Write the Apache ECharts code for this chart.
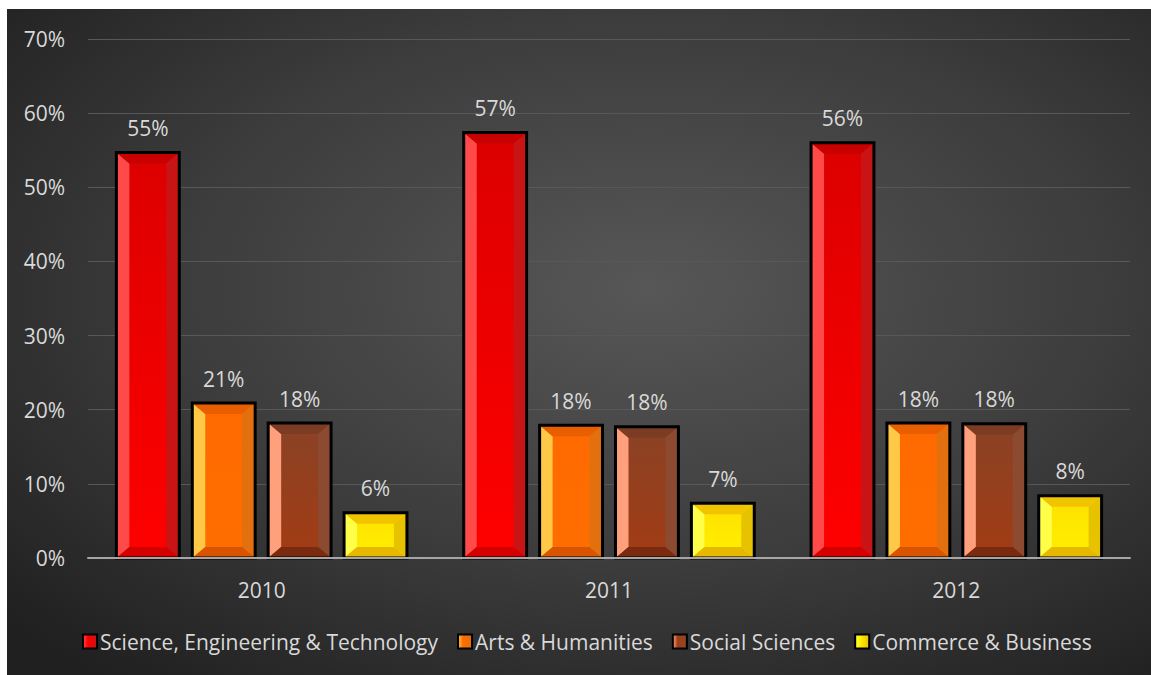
<!DOCTYPE html>
<html>
<head>
<meta charset="utf-8">
<title>Enrolment share by field, 2010–2012</title>
<script src="https://cdn.jsdelivr.net/npm/echarts@6/dist/echarts.min.js"></script>
<style>
  html, body { margin: 0; padding: 0; background: #ffffff; }
  #chart { position: absolute; left: 7px; top: 9px; width: 1144px; height: 666px; }
</style>
</head>
<body>
<div id="chart"></div>
<script>
// Years on the category axis
const categories = ['2010', '2011', '2012'];

// Share of students per field of study (%)
const scienceValues  = [54.7, 57.4, 56.0];
const artsValues     = [20.9, 17.9, 18.2];
const socialValues   = [18.2, 17.7, 18.1];
const commerceValues = [6.1, 7.4, 8.4];

const seriesNames = [
  'Science, Engineering & Technology',
  'Arts & Humanities',
  'Social Sciences',
  'Commerce & Business'
];
const seriesValues = [scienceValues, artsValues, socialValues, commerceValues];

// Bevel shading for each field: face (top→bottom), left, top, right, bottom edges
const bevels = [
  { faceTop: '#dc0000', faceBottom: '#ff0000', left: '#ff4a4a', top: '#c80000', right: '#c81414', bottom: '#d40000' },
  { faceTop: '#ff6a00', faceBottom: '#ff6e00', left: '#ffc847', top: '#e85e00', right: '#e2700f', bottom: '#d85400' },
  { faceTop: '#8a4226', faceBottom: '#a23c14', left: '#ffa07c', top: '#7c3c24', right: '#8c4a30', bottom: '#7a2a0e' },
  { faceTop: '#ffe000', faceBottom: '#fff000', left: '#ffff4a', top: '#f2c400', right: '#e6c200', bottom: '#e6b800' }
];

const FONT = '"Open Sans", "Noto Sans", sans-serif';
const FONT_SIZE = 21;
const TEXT_COLOR = '#d9d9d9';

function vGrad(a, b) {
  return { type: 'linear', x: 0, y: 0, x2: 0, y2: 1,
           colorStops: [{ offset: 0, color: a }, { offset: 1, color: b }] };
}

function makeRenderer(idx) {
  const b = bevels[idx];
  return function (params, api) {
    const cat = api.value(0);
    const val = api.value(1);
    const base = api.coord([cat, 0]);
    const top = api.coord([cat, val]);
    const band = api.size([1, 0])[0];
    const w = band * 0.181;
    const gap = band * 0.0375;
    const groupW = 4 * w + 3 * gap;
    const x0 = base[0] - groupW / 2 + idx * (w + gap);
    const x1 = x0 + w;
    const y0 = top[1];
    const y1 = base[1];
    const h = y1 - y0;
    const bx = Math.min(13, w / 4);
    const by = Math.min(11, h / 3);
    return {
      type: 'group',
      children: [
        { type: 'rect', shape: { x: x0, y: y0, width: w, height: h },
          style: { fill: vGrad(b.faceTop, b.faceBottom) } },
        { type: 'polygon', shape: { points: [[x0, y0], [x0 + bx, y0 + by], [x0 + bx, y1 - by], [x0, y1]] },
          style: { fill: b.left } },
        { type: 'polygon', shape: { points: [[x0, y0], [x1, y0], [x1 - bx, y0 + by], [x0 + bx, y0 + by]] },
          style: { fill: b.top } },
        { type: 'polygon', shape: { points: [[x1, y0], [x1, y1], [x1 - bx, y1 - by], [x1 - bx, y0 + by]] },
          style: { fill: b.right } },
        { type: 'polygon', shape: { points: [[x0, y1], [x0 + bx, y1 - by], [x1 - bx, y1 - by], [x1, y1]] },
          style: { fill: b.bottom } },
        { type: 'rect', shape: { x: x0, y: y0, width: w, height: h },
          style: { fill: 'none', stroke: '#000000', lineWidth: 3 } },
        { type: 'text',
          style: { text: Math.round(val) + '%', x: (x0 + x1) / 2, y: y0 - 14,
                   align: 'center', verticalAlign: 'bottom',
                   fill: TEXT_COLOR, fontSize: FONT_SIZE, fontFamily: FONT } }
      ]
    };
  };
}

const series = seriesNames.map((name, i) => ({
  name: name,
  type: 'custom',
  renderItem: makeRenderer(i),
  itemStyle: { color: bevels[i].faceBottom },
  encode: { x: 0, y: 1 },
  data: seriesValues[i].map((v, c) => [c, v]),
  z: 3
}));

const chart = echarts.init(document.getElementById('chart'), null, { renderer: 'svg' });
chart.setOption({
  animation: false,
  backgroundColor: {
    type: 'radial', x: 0.56, y: 0.42, r: 0.75,
    colorStops: [
      { offset: 0, color: '#575757' },
      { offset: 0.55, color: '#3c3c3c' },
      { offset: 1, color: '#202020' }
    ]
  },
  grid: { left: 81, right: 21, top: 30, bottom: 117 },
  legend: {
    bottom: 18,
    left: 70,
    itemWidth: 14,
    itemHeight: 14,
    itemGap: 19,
    textStyle: { color: TEXT_COLOR, fontSize: FONT_SIZE, fontFamily: FONT, padding: [0, 0, 0, -2] },
    data: seriesNames.map((name, i) => ({
      name: name,
      icon: 'rect',
      itemStyle: {
        color: { type: 'linear', x: 0, y: 0, x2: 1, y2: 0,
                 colorStops: [{ offset: 0, color: bevels[i].left }, { offset: 0.35, color: bevels[i].faceBottom },
                              { offset: 1, color: bevels[i].right }] },
        borderColor: '#000000', borderWidth: 2
      }
    }))
  },
  xAxis: {
    type: 'category',
    data: categories,
    axisLine: { show: true, lineStyle: { color: '#a6a6a6', width: 2 } },
    axisTick: { show: false },
    axisLabel: { color: TEXT_COLOR, fontSize: FONT_SIZE, fontFamily: FONT, margin: 21 },
    z: 5
  },
  yAxis: {
    type: 'value',
    min: 0, max: 70, interval: 10,
    axisLine: { show: false },
    axisTick: { show: false },
    axisLabel: { color: TEXT_COLOR, fontSize: FONT_SIZE, fontFamily: FONT, margin: 23, formatter: '{value}%' },
    splitLine: { lineStyle: { color: '#585858', width: 1 } }
  },
  series: series
});
</script>
</body>
</html>
